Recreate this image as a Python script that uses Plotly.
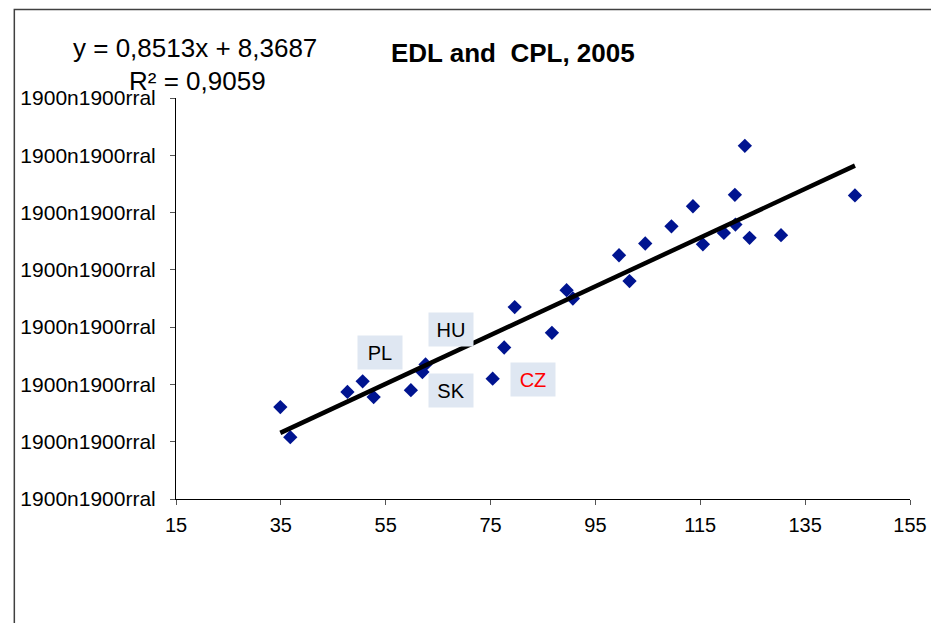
import plotly.graph_objects as go

# ---- data ----
edl = [34.9, 36.8, 47.7, 50.6, 52.7, 59.8, 62.0, 62.6, 75.4, 77.6, 79.6, 86.7, 89.5, 90.7,
       99.5, 101.5, 104.5, 109.5, 113.6, 115.5, 119.5, 121.6, 121.7, 123.5, 124.4, 130.4, 144.5]
cpl = [47.1, 36.6, 52.4, 56.1, 50.6, 53.0, 59.3, 62.0, 57.0, 67.9, 82.0, 73.0, 87.9, 85.0,
       100.1, 91.1, 104.2, 110.2, 117.2, 103.9, 107.9, 121.2, 110.8, 138.3, 106.2, 107.1, 121.0]

slope = 0.8513
intercept = 8.3687
r2 = 0.9059

tick_vals = [15, 35, 55, 75, 95, 115, 135, 155]
x_tick_labels = ["15", "35", "55", "75", "95", "115", "135", "155"]
y_tick_labels = ["1900n1900rral"] * 8

country_labels = ["PL", "HU", "SK", "CZ"]
label_colors = ["black", "black", "black", "red"]

FONT = "Liberation Sans, Arial, sans-serif"

fig = go.Figure()
fig.add_trace(go.Scatter(
    x=edl, y=cpl, mode="markers",
    marker=dict(symbol="diamond", size=11, color="#001490"),
    showlegend=False, hoverinfo="x+y"))

xmin, xmax = min(edl), max(edl)
fig.add_trace(go.Scatter(
    x=[xmin, xmax], y=[slope * xmin + intercept, slope * xmax + intercept],
    mode="lines", line=dict(color="black", width=4.5), showlegend=False))

OFF = 8  # page body margin
W, H = 939 - OFF, 623 - OFF
L, R, T, B = 175 - OFF, 915 - OFF, 97.7 - OFF, 498.7 - OFF


def px_to_paper(px, py):
    # px, py in screen pixels of the reference
    px -= OFF
    py -= OFF
    return (px - L) / (R - L), (B - py) / (B - T)


annotations = []
# equation and R²
ex, ey = px_to_paper(194.3, 47.5)
annotations.append(dict(xref="paper", yref="paper", x=ex, y=ey, showarrow=False,
                        text=f"y = {str(slope).replace('.', ',')}x + {str(intercept).replace('.', ',')}",
                        font=dict(family=FONT, size=26, color="black"),
                        xanchor="center", yanchor="middle"))
rx, ry = px_to_paper(197, 80.5)
annotations.append(dict(xref="paper", yref="paper", x=rx, y=ry, showarrow=False,
                        text=f"R² = {str(r2).replace('.', ',')}",
                        font=dict(family=FONT, size=26, color="black"),
                        xanchor="center", yanchor="middle"))
# title
tx, ty = px_to_paper(515, 53)
annotations.append(dict(xref="paper", yref="paper", x=tx, y=ty, showarrow=False,
                        text="<b>EDL and&nbsp; CPL, 2005</b>",
                        font=dict(family=FONT, size=26, color="black"),
                        xanchor="center", yanchor="middle"))
# country labels
label_pos = [(381, 351.7), (452.7, 329), (452.2, 390), (534.7, 379)]
for lab, col, (lx, ly) in zip(country_labels, label_colors, label_pos):
    ax_, ay_ = px_to_paper(lx, ly)
    annotations.append(dict(xref="paper", yref="paper", x=ax_, y=ay_, showarrow=False,
                            text=lab, font=dict(family=FONT, size=20, color=col),
                            bgcolor="#dfe7f2", width=40, height=29, borderpad=2,
                            xanchor="center", yanchor="middle"))

# chart-area border (cropped at right/bottom in the reference)
bx0, by1 = px_to_paper(12, 9.2)
bx1, by0 = px_to_paper(950, 640)
shapes = [dict(type="rect", xref="paper", yref="paper", x0=bx0, x1=bx1, y0=by0, y1=by1,
               line=dict(color="#404040", width=1.5), fillcolor="rgba(0,0,0,0)")]

fig.update_layout(
    width=W, height=H, autosize=False,
    margin=dict(l=L, r=W - R, t=T, b=H - B),
    paper_bgcolor="white", plot_bgcolor="white",
    font=dict(family=FONT, size=20, color="black"),
    annotations=annotations, shapes=shapes,
    xaxis=dict(range=[15, 155], tickmode="array", tickvals=tick_vals, ticktext=x_tick_labels,
               showgrid=False, zeroline=False, showline=True, linecolor="black", linewidth=1,
               ticks="outside", ticklen=5, tickcolor="#555555",
               tickfont=dict(family=FONT, size=20, color="black"), ticklabelstandoff=3),
    yaxis=dict(range=[15, 155], tickmode="array", tickvals=tick_vals, ticktext=y_tick_labels,
               showgrid=False, zeroline=False, showline=True, linecolor="black", linewidth=1,
               ticks="outside", ticklen=5, tickcolor="#555555",
               tickfont=dict(family=FONT, size=21, color="black"), ticklabelstandoff=10),
)

fig.write_html("out.html")
